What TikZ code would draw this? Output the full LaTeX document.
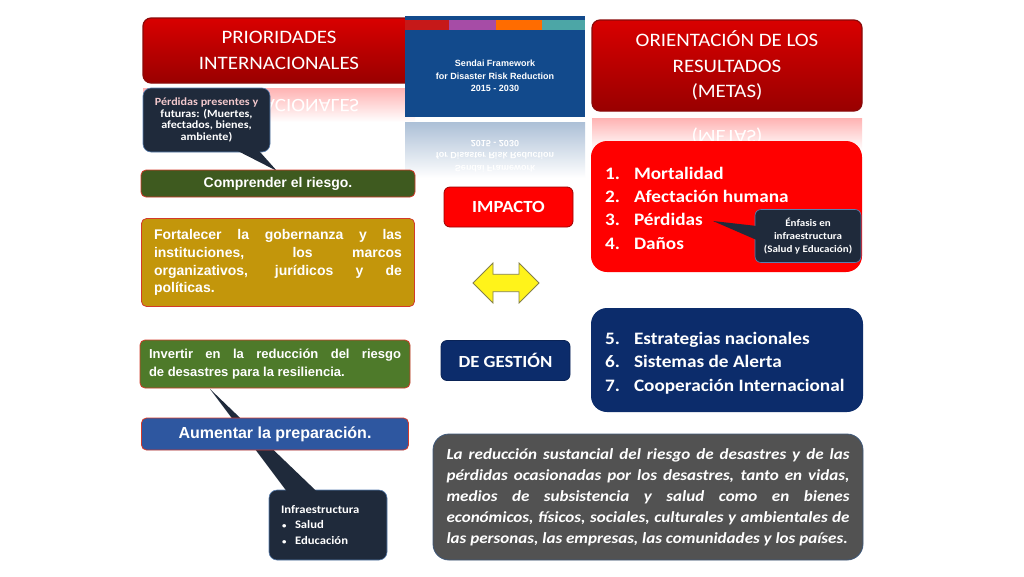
\documentclass[tikz,border=0pt]{standalone}
\usepackage{fontspec}
\setmainfont{Carlito}[FakeStretch=1.1]
\newfontfamily\arialfont{Liberation Sans}
\usetikzlibrary{shapes.arrows}
\hyphenpenalty=10000
\exhyphenpenalty=10000
\tolerance=10000
\hbadness=10000
\definecolor{darkred}{HTML}{8A0A0A}
\definecolor{framered}{HTML}{D23A2A}
\definecolor{listred}{HTML}{FF0000}
\definecolor{navy}{HTML}{0C2C6B}
\definecolor{calloutbg}{HTML}{1F2A3B}
\definecolor{calloutrim}{HTML}{5A7FB0}
\definecolor{sendaiblue}{HTML}{124A8C}
\definecolor{greendark}{HTML}{3E5A1F}
\definecolor{greenmid}{HTML}{4E7A2A}
\definecolor{gold}{HTML}{C3960B}
\definecolor{prepblue}{HTML}{2E57A0}
\definecolor{slate}{HTML}{525252}
\definecolor{pinkish}{HTML}{F2C8CC}

\begin{document}
\begin{tikzpicture}[x=1pt, y=-1pt,
  title/.style={draw=darkred, line width=1.2pt, rounded corners=8pt, top color=red!85!black, bottom color=red!60!black, text=white, align=center, font=\fontsize{19}{25.5}\selectfont},
  prio/.style={draw=framered, line width=0.8pt, rounded corners=5pt, text=white, font=\arialfont\bfseries\fontsize{13}{17.8}\selectfont},
  callout/.style={draw=calloutrim, line width=0.6pt, fill=calloutbg, rounded corners=8pt, text=white, font=\bfseries\fontsize{11}{11.8}\selectfont},
  listbox/.style={rounded corners=16pt, minimum width=271pt},
  listtext/.style={anchor=west, inner sep=0pt, text=white, font=\bfseries\fontsize{17.5}{23.4}\selectfont},
  tag/.style={rounded corners=6pt, text=white, line width=0.8pt, minimum width=129pt, minimum height=40pt, font=\bfseries\fontsize{17}{18}\selectfont},
  tail/.style={fill=calloutbg}
]
  \useasboundingbox[fill=white] (0,0) rectangle (1024,576);

  % Reflections
  \shade[top color=red!30, bottom color=white] (143,88) rectangle (415,122);
  \node[yscale=-1, transform shape, text=white, align=center, font=\fontsize{19}{25.5}\selectfont] (prioflip) at (279,118) {PRIORIDADES\\INTERNACIONALES};
  \shade[top color=red!30, bottom color=white] (592,118) rectangle (862,150);
  \node[yscale=-1, transform shape, text=white, align=center, font=\fontsize{19}{25.5}\selectfont] (metaflip) at (727,162.5) {ORIENTACIÓN DE LOS\\RESULTADOS\\(METAS)};
  \shade[top color=sendaiblue!35, bottom color=white] (405,122) rectangle (585,178);
  \node[yscale=-1, transform shape, text=white, align=center, font=\arialfont\bfseries\fontsize{9}{12.5}\selectfont] (sendaiflip) at (495,156) {Sendai Framework\\for Disaster Risk Reduction\\2015 - 2030};

  % Titles
  \node[title, minimum width=272pt, minimum height=65pt] (prioridades) at (279,50.5) {PRIORIDADES\\INTERNACIONALES};
  \node[title, minimum width=270pt, minimum height=91pt] (orientacion) at (727,65.5) {ORIENTACIÓN DE LOS\\RESULTADOS\\(METAS)};

  % Sendai cover
  \fill[sendaiblue] (405,16) rectangle (585,117);
  \fill[red!75!black!90] (405,20) rectangle (449,30);
  \fill[violet!70] (449,20) rectangle (496,30);
  \fill[orange!85!red] (496,20) rectangle (542,30);
  \fill[teal!70] (542,20) rectangle (585,30);
  \node[text=white, align=center, font=\arialfont\bfseries\fontsize{9}{12.5}\selectfont] (sendai) at (495,76) {Sendai Framework\\for Disaster Risk Reduction\\2015 - 2030};

  % Priorities
  \node[callout, minimum width=127pt, minimum height=64pt, align=center] (perdidas) at (206.5,120) {\textcolor{pinkish}{Pérdidas presentes y}\\futuras: (Muertes,\\afectados, bienes,\\ambiente)};
  \coordinate (perdtip) at (277,171);
  \fill[tail] ([xshift=30pt, yshift=2pt]perdidas.south) -- (perdtip) -- ([xshift=52pt, yshift=2pt]perdidas.south) -- cycle;
  \node[prio, fill=greendark, minimum width=274pt, minimum height=27pt, font=\arialfont\bfseries\fontsize{14}{16}\selectfont] (comprender) at (278,183.5) {Comprender el riesgo.};
  \node[prio, fill=gold, minimum width=273pt, minimum height=88pt, text width=248pt, align=justify, font=\arialfont\bfseries\fontsize{14}{17.8}\selectfont] (fortalecer) at (278,262.5) {Fortalecer la gobernanza y las\linebreak instituciones, los marcos\linebreak organizativos, jurídicos y de\linebreak políticas.};
  \node[prio, fill=greenmid, minimum width=270pt, minimum height=48pt, text width=252pt, align=justify] (invertir) at (275,364) {Invertir en la reducción del riesgo\linebreak de desastres para la resiliencia.};
  \node[callout, minimum width=118pt, minimum height=70pt, text width=94pt, align=left, font=\bfseries\fontsize{11.5}{15.5}\selectfont] (infra) at (328,525) {Infraestructura\\\hspace*{1pt}\makebox[13pt][l]{\fontsize{8}{8}\selectfont\textbullet}Salud\\\hspace*{1pt}\makebox[13pt][l]{\fontsize{8}{8}\selectfont\textbullet}Educación};
  \coordinate (infratip) at (210,389);
  \fill[tail] ([xshift=-41pt, yshift=-2pt]infra.north) -- (infratip) -- ([xshift=-11pt, yshift=-2pt]infra.north) -- cycle;
  \node[prio, fill=prepblue, minimum width=267pt, minimum height=32pt, font=\arialfont\bfseries\fontsize{16}{18}\selectfont] (aumentar) at (275,434) {Aumentar la preparación.};

  % Center tags
  \node[tag, fill=listred, draw=red!60!black] (impacto) at (508.5,207) {IMPACTO};
  \node[tag, fill=navy, draw=navy!80!black] (gestion) at (505.5,360.5) {DE GESTIÓN};
  \node[double arrow, draw=yellow!45!black, fill=yellow!90!white, line width=0.8pt, minimum width=40pt, minimum height=66pt, double arrow head extend=11pt, inner sep=8pt] (enlace) at (506,283) {};

  % Goals
  \node[listbox, fill=listred, minimum height=131pt] (impactbox) at (726.5,206.5) {};
  \node[listtext] (impactlist) at ([xshift=14pt, yshift=-3pt]impactbox.west) {\begin{tabular}{@{}p{29pt}@{}l@{}}1. & Mortalidad\\2. & Afectación humana\\3. & Pérdidas\\4. & Daños\end{tabular}};
  \node[callout, rounded corners=6pt, minimum width=106pt, minimum height=53pt, align=center, font=\bfseries\fontsize{10}{13}\selectfont] (enfasis) at (808,236) {Énfasis en\\infraestructura\\(Salud y Educación)};
  \coordinate (enfasistip) at (713,221);
  \fill[tail] ([xshift=2pt, yshift=10pt]enfasis.west) -- (enfasistip) -- ([xshift=2pt, yshift=-4pt]enfasis.west) -- cycle;
  \node[listbox, fill=navy, minimum height=104pt, minimum width=272pt] (gestionbox) at (727,360) {};
  \node[listtext] (gestionlist) at ([xshift=14pt, yshift=-3pt]gestionbox.west) {\begin{tabular}{@{}p{29pt}@{}l@{}}5. & Estrategias nacionales\\6. & Sistemas de Alerta\\7. & Cooperación Internacional\end{tabular}};

  % Outcome
  \node[draw=calloutrim!70!black, line width=0.8pt, fill=slate, rounded corners=16pt, minimum width=430pt, minimum height=126pt, text width=403pt, align=justify, text=white, font=\bfseries\itshape\fontsize{15.5}{21}\selectfont] (resultado) at (648,497) {La reducción sustancial del riesgo de desastres y de las\linebreak pérdidas ocasionadas por los desastres, tanto en vidas,\linebreak medios de subsistencia y salud como en bienes\linebreak económicos, físicos, sociales, culturales y ambientales de\linebreak las personas, las empresas, las comunidades y los países.};
\end{tikzpicture}
\end{document}
